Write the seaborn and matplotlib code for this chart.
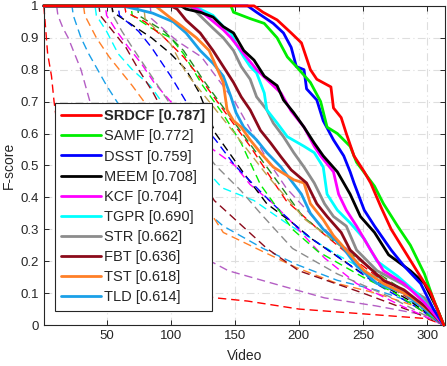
import matplotlib
matplotlib.use("Agg")
import matplotlib.pyplot as plt
from matplotlib.ticker import FormatStrFormatter
import seaborn as sns

# ---- top 10 trackers (solid), keypoints of the sorted F-score curves ----
srdcf_x = [1, 165, 172, 183, 194, 202, 209, 214, 225, 227, 233, 237, 243, 251, 256, 264, 272, 282, 292, 303, 311, 313]
srdcf_y = [1, 1, 0.98, 0.956, 0.915, 0.884, 0.8, 0.77, 0.746, 0.68, 0.65, 0.6, 0.53, 0.48, 0.445, 0.37, 0.3, 0.235, 0.17, 0.1, 0.02, 0]

samf_x = [1, 147, 149, 162, 173, 183, 191, 198, 209, 217, 222, 230, 240, 245, 259, 266, 277, 287, 298, 305, 313]
samf_y = [1, 1, 0.98, 0.96, 0.945, 0.9, 0.84, 0.81, 0.76, 0.7, 0.62, 0.6, 0.56, 0.51, 0.435, 0.38, 0.31, 0.25, 0.16, 0.08, 0]

dsst_x = [1, 160, 167, 180, 188, 194, 198, 204, 206, 214, 219, 227, 235, 240, 243, 251, 259, 272, 282, 295, 305, 313]
dsst_y = [1, 1, 0.98, 0.945, 0.915, 0.87, 0.81, 0.8, 0.74, 0.705, 0.64, 0.58, 0.53, 0.48, 0.445, 0.36, 0.31, 0.235, 0.185, 0.13, 0.05, 0]

meem_x = [1, 108, 112, 123, 133, 141, 149, 157, 165, 173, 183, 188, 196, 204, 212, 219, 230, 235, 240, 248, 259, 270, 287, 298, 308, 313]
meem_y = [1, 1, 0.99, 0.98, 0.965, 0.935, 0.915, 0.86, 0.83, 0.78, 0.75, 0.705, 0.665, 0.62, 0.57, 0.53, 0.48, 0.445, 0.41, 0.34, 0.29, 0.22, 0.17, 0.13, 0.05, 0]

kcf_x = [1, 115, 123, 141, 147, 157, 167, 186, 194, 204, 212, 217, 227, 231, 237, 245, 256, 266, 282, 298, 313]
kcf_y = [1, 1, 0.985, 0.925, 0.9, 0.85, 0.8, 0.727, 0.67, 0.62, 0.56, 0.53, 0.48, 0.41, 0.36, 0.31, 0.235, 0.17, 0.13, 0.07, 0]

tgpr_x = [1, 118, 133, 141, 147, 151, 157, 162, 167, 173, 175, 183, 191, 204, 212, 219, 222, 230, 240, 251, 261, 277, 292, 305, 313]
tgpr_y = [1, 1, 0.97, 0.935, 0.915, 0.88, 0.84, 0.81, 0.79, 0.727, 0.674, 0.633, 0.59, 0.56, 0.54, 0.495, 0.41, 0.36, 0.32, 0.27, 0.2, 0.153, 0.1, 0.04, 0]

str_x = [1, 115, 133, 141, 149, 155, 162, 167, 175, 180, 188, 196, 204, 212, 220, 227, 237, 245, 261, 280, 298, 313]
str_y = [1, 1, 0.93, 0.9, 0.86, 0.81, 0.77, 0.715, 0.674, 0.633, 0.59, 0.54, 0.495, 0.445, 0.38, 0.34, 0.31, 0.235, 0.17, 0.13, 0.085, 0]

fbt_x = [1, 100, 105, 112, 123, 133, 141, 149, 155, 162, 170, 178, 186, 194, 206, 214, 222, 233, 240, 251, 266, 282, 298, 313]
fbt_y = [1, 1, 0.99, 0.955, 0.915, 0.86, 0.81, 0.76, 0.715, 0.674, 0.61, 0.57, 0.527, 0.486, 0.445, 0.38, 0.34, 0.29, 0.235, 0.194, 0.14, 0.11, 0.06, 0]

tst_x = [1, 88, 99, 109, 120, 130, 141, 144, 149, 155, 162, 170, 180, 196, 204, 209, 219, 227, 237, 251, 266, 287, 303, 313]
tst_y = [1, 1, 0.965, 0.935, 0.9, 0.86, 0.76, 0.674, 0.64, 0.62, 0.58, 0.54, 0.495, 0.455, 0.445, 0.38, 0.33, 0.28, 0.235, 0.17, 0.13, 0.09, 0.04, 0]

tld_x = [1, 62, 76, 86, 102, 112, 123, 133, 141, 147, 151, 157, 167, 175, 186, 202, 209, 219, 233, 245, 261, 282, 298, 313]
tld_y = [1, 1, 0.987, 0.977, 0.95, 0.915, 0.86, 0.82, 0.78, 0.715, 0.665, 0.62, 0.58, 0.54, 0.495, 0.41, 0.35, 0.3, 0.25, 0.185, 0.13, 0.1, 0.05, 0]

solid_names = ["SRDCF [0.787]", "SAMF [0.772]", "DSST [0.759]", "MEEM [0.708]", "KCF [0.704]",
               "TGPR [0.690]", "STR [0.662]", "FBT [0.636]", "TST [0.618]", "TLD [0.614]"]
solid_colors = ["#ff0000", "#00ee00", "#0000ff", "#000000", "#ff00ff",
                "#00ffff", "#8c8c8c", "#8b0a1a", "#ff7f27", "#1aa0e8"]

# ---- remaining trackers (dashed, not in legend) ----
d_red_x = [1, 2, 4, 7, 9, 14, 25, 45, 80, 110, 135, 160, 200, 250, 300, 313]
d_red_y = [1, 0.95, 0.85, 0.78, 0.7, 0.55, 0.38, 0.24, 0.14, 0.1, 0.085, 0.075, 0.05, 0.035, 0.02, 0]
d_purple_x = [1, 11, 12, 16, 20, 25, 30, 37, 50, 70, 100, 131, 145, 180, 220, 260, 300, 313]
d_purple_y = [1, 1, 0.97, 0.93, 0.9, 0.85, 0.8, 0.7, 0.55, 0.42, 0.3, 0.2, 0.17, 0.13, 0.085, 0.06, 0.03, 0]
d_ltblue_x = [1, 23, 24, 30, 36, 43, 50, 58, 75, 95, 115, 141, 172, 198, 230, 260, 290, 313]
d_ltblue_y = [1, 1, 0.97, 0.9, 0.85, 0.8, 0.75, 0.7, 0.58, 0.48, 0.4, 0.31, 0.24, 0.19, 0.14, 0.11, 0.07, 0]
d_orange_x = [1, 32, 33, 42, 52, 60, 70, 81, 100, 120, 141, 172, 198, 230, 260, 290, 313]
d_orange_y = [1, 1, 0.97, 0.9, 0.84, 0.8, 0.75, 0.69, 0.55, 0.42, 0.29, 0.23, 0.18, 0.13, 0.1, 0.06, 0]
d_cyan_x = [1, 41, 42, 50, 59, 70, 84, 100, 120, 140, 165, 190, 230, 270, 300, 313]
d_cyan_y = [1, 1, 0.97, 0.92, 0.85, 0.8, 0.75, 0.66, 0.52, 0.43, 0.39, 0.32, 0.22, 0.13, 0.06, 0]
d_dkred_x = [1, 44, 45, 55, 65, 75, 86, 110, 134, 145, 175, 200, 250, 290, 313]
d_dkred_y = [1, 1, 0.97, 0.92, 0.87, 0.8, 0.73, 0.55, 0.39, 0.35, 0.24, 0.17, 0.1, 0.04, 0]
d_magenta_x = [1, 49, 50, 58, 67, 77, 87, 100, 112, 133, 150, 162, 180, 195, 220, 245, 280, 313]
d_magenta_y = [1, 1, 0.97, 0.92, 0.87, 0.82, 0.76, 0.7, 0.66, 0.55, 0.5, 0.44, 0.38, 0.32, 0.21, 0.13, 0.06, 0]
d_gray_x = [1, 54, 55, 62, 70, 80, 90, 115, 135, 155, 170, 195, 230, 270, 313]
d_gray_y = [1, 1, 0.97, 0.92, 0.87, 0.81, 0.75, 0.6, 0.5, 0.42, 0.35, 0.24, 0.16, 0.09, 0]
d_black_x = [1, 54, 55, 70, 85, 100, 112, 122, 135, 158, 175, 195, 210, 250, 285, 313]
d_black_y = [1, 1, 0.98, 0.94, 0.9, 0.85, 0.8, 0.73, 0.6, 0.47, 0.38, 0.32, 0.27, 0.16, 0.08, 0]
d_blue_x = [1, 59, 60, 75, 85, 100, 118, 135, 150, 172, 195, 210, 228, 260, 290, 313]
d_blue_y = [1, 1, 0.97, 0.92, 0.87, 0.78, 0.66, 0.58, 0.5, 0.41, 0.32, 0.27, 0.22, 0.13, 0.06, 0]
d_green_x = [1, 69, 70, 85, 100, 110, 125, 141, 155, 170, 195, 215, 250, 275, 313]
d_green_y = [1, 1, 0.97, 0.93, 0.9, 0.85, 0.75, 0.66, 0.57, 0.44, 0.3, 0.23, 0.15, 0.1, 0]
d_red2_x = [1, 64, 65, 80, 95, 110, 120, 140, 162, 180, 190, 215, 245, 275, 300, 313]
d_red2_y = [1, 1, 0.98, 0.95, 0.9, 0.84, 0.79, 0.68, 0.56, 0.45, 0.39, 0.3, 0.2, 0.11, 0.05, 0]
d_dkgreen_x = [1, 74, 75, 95, 110, 125, 145, 165, 185, 203, 225, 255, 285, 313]
d_dkgreen_y = [1, 1, 0.97, 0.92, 0.86, 0.77, 0.66, 0.55, 0.44, 0.34, 0.27, 0.18, 0.1, 0]
d_tan_x = [1, 79, 80, 100, 112, 128, 150, 175, 205, 235, 265, 295, 313]
d_tan_y = [1, 1, 0.96, 0.88, 0.79, 0.71, 0.6, 0.47, 0.33, 0.24, 0.15, 0.07, 0]
d_purple2_x = [1, 84, 85, 105, 124, 150, 175, 190, 220, 260, 290, 313]
d_purple2_y = [1, 1, 0.96, 0.89, 0.84, 0.7, 0.52, 0.43, 0.3, 0.16, 0.08, 0]

x_ticks = [50, 100, 150, 200, 250, 300]
y_ticks = [0, 0.1, 0.2, 0.3, 0.4, 0.5, 0.6, 0.7, 0.8, 0.9, 1]

solid = [(srdcf_x, srdcf_y), (samf_x, samf_y), (dsst_x, dsst_y), (meem_x, meem_y), (kcf_x, kcf_y),
         (tgpr_x, tgpr_y), (str_x, str_y), (fbt_x, fbt_y), (tst_x, tst_y), (tld_x, tld_y)]
dashed = [(d_red_x, d_red_y, "#ff0000"), (d_purple_x, d_purple_y, "#b45ec4"),
          (d_ltblue_x, d_ltblue_y, "#1aa0e8"), (d_orange_x, d_orange_y, "#ff7f27"),
          (d_cyan_x, d_cyan_y, "#00ffff"), (d_dkred_x, d_dkred_y, "#8b0a1a"),
          (d_magenta_x, d_magenta_y, "#ff00ff"), (d_gray_x, d_gray_y, "#8c8c8c"),
          (d_black_x, d_black_y, "#000000"), (d_blue_x, d_blue_y, "#0000ff"),
          (d_green_x, d_green_y, "#00ee00"), (d_red2_x, d_red2_y, "#ff0000"),
          (d_dkgreen_x, d_dkgreen_y, "#228b22"), (d_tan_x, d_tan_y, "#c0a050"),
          (d_purple2_x, d_purple2_y, "#b45ec4")]

sns.set_style("ticks")
plt.rcParams["font.family"] = ["Liberation Sans", "DejaVu Sans"]

fig = plt.figure(figsize=(4.47, 3.66), dpi=100)
ax = fig.add_axes([0.098, 0.112, 0.8975, 0.872])

# dashed curves first so the solid ones sit on top
for xs, ys, c in dashed:
    sns.lineplot(x=xs, y=ys, ax=ax, color=c, linewidth=1.0, estimator=None,
                 dashes=False, linestyle=(0, (6, 3.5)))
n_dashed = len(ax.get_lines())

# worst solid tracker first, SRDCF last (on top)
for (xs, ys), name, c in zip(solid[::-1], solid_names[::-1], solid_colors[::-1]):
    sns.lineplot(x=xs, y=ys, ax=ax, color=c, linewidth=2.0, estimator=None, label=name)

# MATLAB style: curves are not clipped at the axes box and cover the spines
for i, ln in enumerate(ax.get_lines()):
    ln.set_clip_on(False)
    ln.set_zorder(2 if i < n_dashed else 3 + 0.01 * i)

ax.set_xlim(1, 314)
ax.set_ylim(0, 1)
ax.set_xticks(x_ticks)
ax.set_yticks(y_ticks)
ax.yaxis.set_major_formatter(FormatStrFormatter("%g"))
ax.grid(True, color="#dedede", linewidth=0.8, linestyle=(0, (7, 3, 1, 3)))
ax.set_axisbelow(True)
ax.tick_params(direction="in", length=3.5, width=0.7, labelsize=9.5, colors="#262626",
               top=True, right=True)
for sp in ax.spines.values():
    sp.set_color("#262626")
    sp.set_linewidth(0.8)
ax.set_xlabel("Video", fontsize=10, color="#262626", labelpad=5)
ax.set_ylabel("F-score", fontsize=10, color="#262626", labelpad=3)

handles, labels = ax.get_legend_handles_labels()
leg = ax.legend(handles[::-1], labels[::-1], loc="lower left", bbox_to_anchor=(0.027, 0.044),
                borderaxespad=0, fontsize=10.5, frameon=True, fancybox=False,
                handlelength=2.7, handletextpad=0.25, labelspacing=0.42, borderpad=0.45)
leg.set_zorder(10)
leg.get_frame().set_edgecolor("#262626")
leg.get_frame().set_linewidth(0.8)
leg.get_frame().set_alpha(1)
leg.get_texts()[0].set_fontweight("bold")
for t in leg.get_texts():
    t.set_color("#262626")

fig.savefig("out.png", dpi=100)
